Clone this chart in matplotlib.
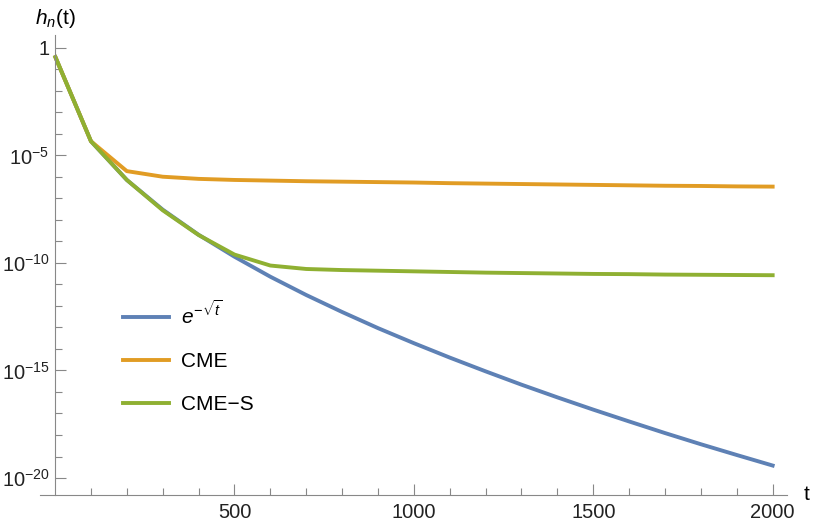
import numpy as np
import matplotlib
matplotlib.use("Agg")
import matplotlib.pyplot as plt
from matplotlib.ticker import FixedLocator, FuncFormatter

plt.rcParams['font.family'] = ['Liberation Sans', 'DejaVu Sans']
plt.rcParams['mathtext.fontset'] = 'custom'
plt.rcParams['mathtext.rm'] = 'Liberation Sans'
plt.rcParams['mathtext.it'] = 'Liberation Sans:italic'

# sample times
t = [1, 100, 200, 300, 400, 500, 600, 700, 800, 900, 1000,
     1100, 1200, 1300, 1400, 1500, 1600, 1700, 1800, 1900, 2000]

# (log10 of h_n(t))
log_exact = [-0.43, -4.34, -6.14, -7.52, -8.69, -9.71, -10.64, -11.49, -12.28, -13.03, -13.73,
             -14.40, -15.04, -15.66, -16.25, -16.82, -17.37, -17.91, -18.43, -18.93, -19.42]
log_cme = [-0.43, -4.34, -5.73, -5.99, -6.09, -6.14, -6.17, -6.20, -6.22, -6.24, -6.26,
           -6.29, -6.31, -6.33, -6.35, -6.37, -6.39, -6.41, -6.42, -6.44, -6.45]
log_cmes = [-0.43, -4.34, -6.14, -7.55, -8.70, -9.61, -10.12, -10.28, -10.33, -10.36, -10.39,
            -10.42, -10.45, -10.47, -10.49, -10.51, -10.52, -10.54, -10.55, -10.56, -10.57]

labels = [r'$e^{-\sqrt{t}}$', 'CME', 'CME\u2212S']
colors = ['#5E81B5', '#E19C24', '#8FB032']

fig = plt.figure(figsize=(8.14, 5.23), dpi=100)
W, H = 814, 523
ax = fig.add_axes([40 / W, 1 - 495 / H, (787 - 40) / W, (495 - 35) / H])

for vals, lab, c in zip([log_exact, log_cme, log_cmes], labels, colors):
    ax.plot(t, 10.0 ** np.array(vals), color=c, lw=2.8, label=lab, solid_joinstyle='round')

ax.set_yscale('log')
ax.set_xlim(-42, 2040)
ax.set_ylim(10 ** -20.79, 10 ** 0.6)

for s in ['top', 'right']:
    ax.spines[s].set_visible(False)
ax.spines['left'].set_position(('data', 0))
ax.spines['left'].set_color('#888888')
ax.spines['bottom'].set_color('#888888')

ax.yaxis.set_major_locator(FixedLocator([10.0 ** k for k in [0, -5, -10, -15, -20]]))
ax.yaxis.set_minor_locator(FixedLocator([10.0 ** k for k in range(-20, 1) if k % 5 != 0]))

def yfmt(v, pos):
    k = int(round(np.log10(v)))
    if k == 0:
        return '1'
    return r'$10^{\mathregular{%d}}$' % k
ax.yaxis.set_major_formatter(FuncFormatter(yfmt))
ax.yaxis.set_minor_formatter(FuncFormatter(lambda v, p: ''))

ax.xaxis.set_major_locator(FixedLocator([500, 1000, 1500, 2000]))
ax.xaxis.set_minor_locator(FixedLocator([k * 100 for k in range(1, 21) if k % 5 != 0]))

ax.tick_params(which='both', direction='in', color='#888888', labelsize=14.5, labelcolor='#222222')
ax.tick_params(which='major', length=8, width=0.8)
ax.tick_params(which='minor', length=5, width=0.8)
ax.tick_params(axis='x', which='both', pad=6)
ax.tick_params(axis='y', which='both', pad=4)

fig.text(35 / W, 1 - 18 / H, r'$h_n$(t)', fontsize=15, va='center', ha='left')
fig.text(804 / W, 1 - 494 / H, 't', fontsize=15, va='center', ha='left')

ax.legend(loc='upper left', bbox_to_anchor=(104 / W, 1 - 282 / H), bbox_transform=fig.transFigure,
          frameon=False, fontsize=15, handlelength=2.2, handletextpad=0.6, labelspacing=1.15)

fig.savefig('out.png', dpi=100)
